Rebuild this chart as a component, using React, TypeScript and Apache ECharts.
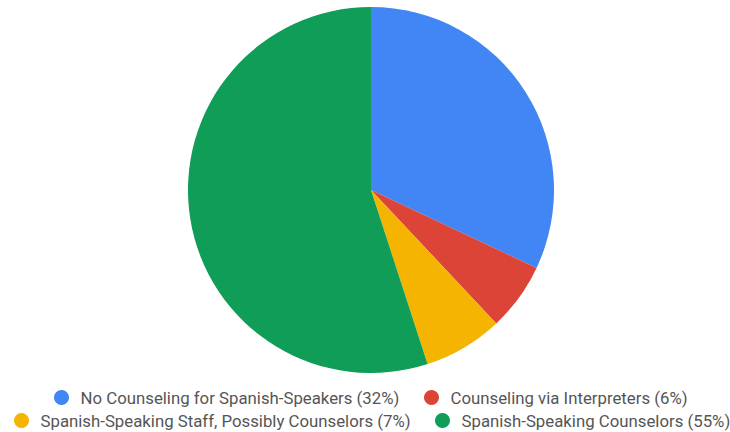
import React, { useEffect, useRef } from "react";
import * as echarts from "echarts";

const categories = [
  "No Counseling for Spanish-Speakers",
  "Counseling via Interpreters",
  "Spanish-Speaking Staff, Possibly Counselors",
  "Spanish-Speaking Counselors",
];
const values = [32, 6, 7, 55];
const colors = ["#4285F4", "#DB4437", "#F4B400", "#0F9D58"];

// legend placement: [left, top]
const legendPos: [number, number][] = [
  [54, 389],
  [424, 389],
  [14, 412],
  [435, 412],
];

export default function App() {
  const ref = useRef<HTMLDivElement>(null);
  useEffect(() => {
    document.body.style.margin = "0";
    if (!ref.current) return;
    const chart = echarts.init(ref.current, undefined, { renderer: "svg" });
    const total = values.reduce((a, b) => a + b, 0);
    const fmt = (name: string) => {
      const i = categories.indexOf(name);
      return `${name} (${Math.round((values[i] / total) * 100)}%)`;
    };
    chart.setOption({
      animation: false,
      color: colors,
      legend: categories.map((c, i) => ({
        data: [c],
        left: legendPos[i][0],
        top: legendPos[i][1],
        padding: 0,
        icon: "circle",
        itemWidth: 28,
        itemHeight: 15,
        formatter: fmt,
        selectedMode: false,
        textStyle: {
          fontFamily: "Roboto",
          fontSize: 16.8,
          lineHeight: 16,
          color: "#555555",
        },
      })),
      series: [
        {
          type: "pie",
          center: [371, 190],
          radius: [0, 183],
          startAngle: 90,
          clockwise: true,
          label: { show: false },
          labelLine: { show: false },
          itemStyle: { borderWidth: 0 },
          emphasis: { disabled: true },
          data: categories.map((c, i) => ({ name: c, value: values[i] })),
        },
      ],
    });
    return () => chart.dispose();
  }, []);
  return <div ref={ref} style={{ width: 730, height: 432 }} />;
}
